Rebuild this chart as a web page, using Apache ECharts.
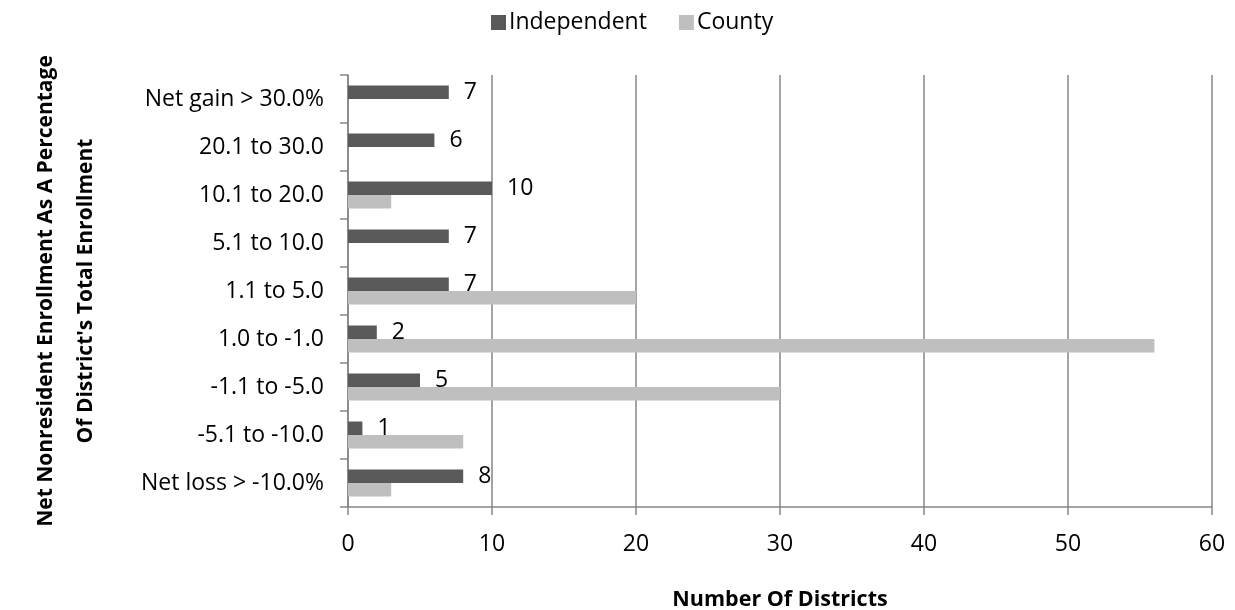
<!DOCTYPE html>
<html>
<head>
<meta charset="utf-8">
<script src="https://cdn.jsdelivr.net/npm/echarts@6/dist/echarts.min.js"></script>
<style>
  html, body { margin: 0; padding: 0; background: #fff; }
  #chart { width: 1235px; height: 610px; }
</style>
</head>
<body>
<div id="chart"></div>
<script>
// Enrollment change bands, listed top to bottom
const categories = [
  'Net gain > 30.0%',
  '20.1 to 30.0',
  '10.1 to 20.0',
  '5.1 to 10.0',
  '1.1 to 5.0',
  '1.0 to -1.0',
  '-1.1 to -5.0',
  '-5.1 to -10.0',
  'Net loss > -10.0%'
];
const independent = [7, 6, 10, 7, 7, 2, 5, 1, 8];
const county = [0, 0, 3, 0, 20, 56, 30, 8, 3];
const xTicks = { min: 0, max: 60, interval: 10 };

const FONT = '"Open Sans", sans-serif';
const AXIS_GRAY = '#868686';

const chart = echarts.init(document.getElementById('chart'));
chart.setOption({
  animation: false,
  textStyle: { fontFamily: FONT, color: '#000' },
  legend: {
    top: 6,
    left: 486,
    itemWidth: 15,
    itemHeight: 15,
    itemGap: 32,
    icon: 'rect',
    textStyle: { fontSize: 23, color: '#000', fontFamily: FONT, padding: [2, 0, 0, -2] },
    data: ['Independent', 'County']
  },
  grid: {
    left: 348, right: 23, top: 75, bottom: 103,
    containLabel: false,
    outerBoundsMode: 'none'
  },
  xAxis: {
    type: 'value',
    min: xTicks.min,
    max: xTicks.max,
    interval: xTicks.interval,
    name: 'Number Of Districts',
    nameLocation: 'middle',
    nameGap: 82,
    nameTextStyle: { fontSize: 21.5, fontWeight: 'bold', color: '#000', fontFamily: FONT },
    axisLine: { show: true, lineStyle: { color: AXIS_GRAY, width: 1.5 } },
    axisTick: { show: true, length: 8, lineStyle: { color: AXIS_GRAY, width: 1.5 } },
    axisLabel: { fontSize: 23, color: '#000', margin: 26, fontFamily: FONT },
    splitLine: { show: true, lineStyle: { color: AXIS_GRAY, width: 1.5 } }
  },
  yAxis: {
    type: 'category',
    inverse: true,
    data: categories,
    name: "Net Nonresident Enrollment As A Percentage\nOf District's Total Enrollment",
    nameLocation: 'middle',
    nameRotate: 90,
    nameGap: 242,
    nameTextStyle: { fontSize: 21, fontWeight: 'bold', color: '#000', lineHeight: 40, fontFamily: FONT },
    axisLine: { show: true, lineStyle: { color: AXIS_GRAY, width: 1.5 } },
    axisTick: { show: true, length: 8, lineStyle: { color: AXIS_GRAY, width: 1.5 } },
    axisLabel: { fontSize: 23, color: '#000', margin: 24, padding: [5, 0, 0, 0], fontFamily: FONT }
  },
  series: [
    {
      name: 'Independent',
      type: 'bar',
      data: independent,
      barWidth: 13.5,
      barGap: '0%',
      itemStyle: { color: '#595959' },
      label: {
        show: true,
        position: 'right',
        distance: 15,
        fontSize: 23,
        padding: [4, 0, 0, 0],
        color: '#000',
        fontFamily: FONT
      }
    },
    {
      name: 'County',
      type: 'bar',
      data: county,
      barWidth: 13.5,
      barGap: '0%',
      itemStyle: { color: '#bfbfbf' }
    }
  ]
});
</script>
</body>
</html>
